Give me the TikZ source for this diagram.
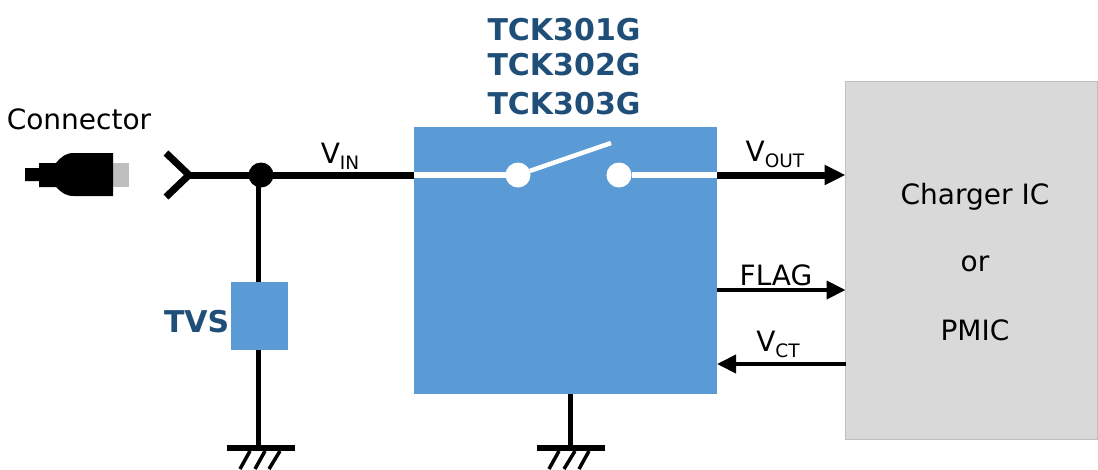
\documentclass[tikz,border=0pt]{standalone}
\usepackage{fontspec}
\setmainfont{DejaVu Sans}
\usepackage{xcolor}
\usetikzlibrary{arrows.meta}
\definecolor{blockBlue}{HTML}{5B9BD5}
\definecolor{titleBlue}{HTML}{1F4E79}
\definecolor{chargerGray}{HTML}{D9D9D9}
\definecolor{plugGray}{HTML}{BFBFBF}
\newcommand{\lblsub}[2]{#1\raisebox{-6pt}{\fontsize{18.5}{19}\selectfont #2}}

\begin{document}
\begin{tikzpicture}[
    x=1pt, y=-1pt,
    block/.style={fill=blockBlue, inner sep=0pt, outer sep=0pt},
    label/.style={font=\fontsize{28}{32}\selectfont, inner sep=0pt, anchor=base},
    title/.style={font=\fontsize{30}{34}\selectfont\bfseries, text=titleBlue, inner sep=0pt},
    dot/.style={circle, inner sep=0pt, outer sep=0pt, minimum size=25pt},
    gndbar/.style={fill=black, inner sep=0pt, outer sep=0pt, minimum width=68pt, minimum height=6.5pt},
    wire/.style={line width=5pt},
    bigarrow/.style={-{Triangle[length=21pt,width=19pt]}, line width=7pt},
    thinarrow/.style={-{Triangle[length=19pt,width=18pt]}, line width=4pt}
  ]
  \useasboundingbox (0,0) rectangle (1098,469);

  % Blocks
  \node[block, minimum width=303pt, minimum height=267pt] (switchic) at (565.5,260.5) {};
  \node[block, minimum width=57pt, minimum height=68pt] (tvs) at (259.5,316) {};
  \node[draw=plugGray, fill=chargerGray, line width=1pt, inner sep=0pt, outer sep=0pt,
    minimum width=252pt, minimum height=358pt] (charger) at (971.5,260.5) {};

  % Titles
  \node[title] (tck301) at (564,29.5) {TCK301G};
  \node[title] (tck302) at (564,65) {TCK302G};
  \node[title] (tck303) at (564,104) {TCK303G};
  \node[title, anchor=east] (tvslabel) at (229.5,322) {TVS};

  % Connector plug
  \fill[plugGray] (112,163) rectangle (129,187);
  \fill[black] (25,168) -- (39,168) -- (39,163) -- (56,163)
    .. controls (62,156) and (66,153) .. (74,153) -- (113,153) -- (113,196) -- (74,196)
    .. controls (66,196) and (62,193) .. (56,187) -- (39,187) -- (39,181) -- (25,181) -- cycle;
  \node[label] (connector) at (79,129) {Connector};

  % Input side
  \coordinate (fork) at (189,175);
  \coordinate (forktop) at (166,153);
  \coordinate (forkbot) at (166,197);
  \coordinate (tap) at (258,175);
  \node[dot, fill=black] (junction) at (261,175) {};
  \draw[line width=7pt, line join=bevel] (forktop) -- (fork) -- (forkbot);
  \draw[line width=7pt] (fork) -- (switchic.west |- fork);
  \node[label] (vin) at (340,163) {\lblsub{V}{IN}};

  % TVS and grounds
  \node[gndbar] (gndtvs) at (261,448) {};
  \node[gndbar] (gndic) at (570.5,448) {};
  \draw[wire] (tap) -- (tvs.north -| tap);
  \draw[wire] (tvs.south -| tap) -- (gndtvs.north -| tap);
  \draw[wire] (switchic.south -| gndic) -- (gndic.north);
  \draw[line width=3.5pt] (250,451) -- (240,469) (265,451) -- (255,469) (280,451) -- (269,469);
  \draw[line width=3.5pt] (559,451) -- (549,469) (575,451) -- (564,469) (589,451) -- (579,469);

  % Switch
  \node[dot, fill=white] (contactl) at (518,175) {};
  \node[dot, fill=white] (contactr) at (619,175) {};
  \coordinate (blade) at (611,143);
  \draw[white, line width=6pt] (switchic.west |- contactl) -- (contactl);
  \draw[white, line width=6pt] (contactr) -- (switchic.east |- contactr);
  \draw[white, line width=4.5pt] (contactl) -- (blade);

  % Signals
  \draw[bigarrow] (switchic.east |- contactr) -- (charger.west |- contactr);
  \coordinate (flagy) at (717,290);
  \coordinate (vcty) at (717,364);
  \draw[thinarrow] (flagy) -- (charger.west |- flagy);
  \draw[thinarrow] (charger.west |- vcty) -- (vcty);
  \node[label] (vout) at (775,161) {\lblsub{V}{OUT}};
  \node[label] (flag) at (776,285) {FLAG};
  \node[label] (vct) at (778,351) {\lblsub{V}{CT}};

  % Charger text
  \node[label] (chargeric) at (975,204) {Charger IC};
  \node[label] (oror) at (975,271) {or};
  \node[label] (pmic) at (975,340) {PMIC};
\end{tikzpicture}
\end{document}
